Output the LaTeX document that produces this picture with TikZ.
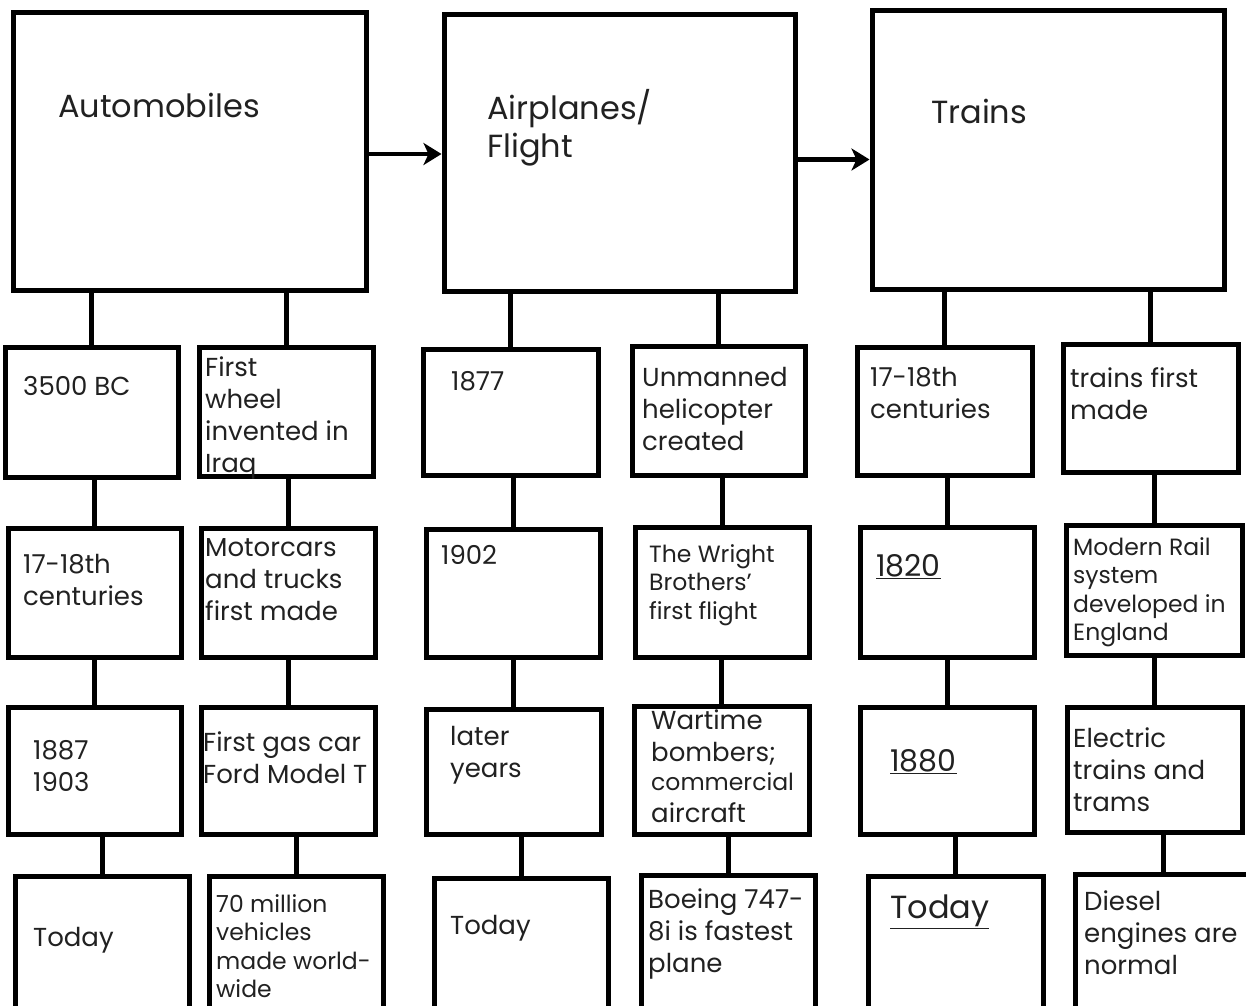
\documentclass[tikz,border=0pt]{standalone}
\usepackage{fontspec}
\setmainfont{Poppins}
\usepackage{tikz}
\usetikzlibrary{arrows.meta}
\definecolor{ink}{rgb}{0.13,0.13,0.13}
\tikzstyle{box}=[draw, line width=5pt, inner sep=0pt, rectangle]
\tikzstyle{txt}=[anchor=north west, inner sep=0pt, align=left, text=ink, font=\fontsize{26}{32}\selectfont]
\tikzstyle{small}=[font=\fontsize{23.5}{28.5}\selectfont]
\tikzstyle{big}=[font=\fontsize{32}{38}\selectfont]
\tikzstyle{link}=[line width=5pt]
\tikzstyle{arr}=[line width=4.5pt, -{Stealth[length=18pt,width=22pt,inset=5pt]}]

\begin{document}
\begin{tikzpicture}[x=1pt,y=-1pt]
\useasboundingbox (0,0) rectangle (1246,1005);
\clip (0,0) rectangle (1246,1005);
% top row
\node[box, minimum width=353pt, minimum height=278pt] (auto) at (189.5,151) {};
\node[box, minimum width=351pt, minimum height=277pt] (air) at (619.5,152.5) {};
\node[box, minimum width=352pt, minimum height=279pt] (trains) at (1048,149.5) {};
\node[txt, big] (t-auto) at (58,93) {Automobiles};
\node[txt, big] (t-air) at (487,89) {Airplanes/\\Flight};
\node[txt, big] (t-trains) at (931,99) {Trains};
\draw[arr] ([yshift=-3pt]auto.east) -- ([yshift=-3pt]auto.east -| air.west);
\draw[arr] ([yshift=-7pt]air.east) -- ([yshift=-7pt]air.east -| trains.west);
% first row
\node[box, minimum width=173pt, minimum height=130pt] (a1) at (91.5,412) {};
\node[box, minimum width=174pt, minimum height=129pt] (b1) at (286,411.5) {};
\node[box, minimum width=175pt, minimum height=126pt] (c1) at (510.5,412) {};
\node[box, minimum width=173pt, minimum height=129pt] (d1) at (718.5,410.5) {};
\node[box, minimum width=175pt, minimum height=128pt] (e1) at (944.5,411) {};
\node[box, minimum width=175pt, minimum height=128pt] (f1) at (1150.5,408) {};
\node[txt] (t-a1) at (23,376) {3500 BC};
\node[txt] (t-b1) at (205,357) {First\\wheel\\invented in\\Iraq};
\node[txt] (t-c1) at (451,371) {1877};
\node[txt] (t-d1) at (642,367) {Unmanned\\helicopter\\created};
\node[txt] (t-e1) at (870,367) {17-18th\\centuries};
\node[txt] (t-f1) at (1070,367) {trains first\\made};
% second row
\node[box, minimum width=173pt, minimum height=129pt] (a2) at (94.5,592.5) {};
\node[box, minimum width=174pt, minimum height=129pt] (b2) at (288,592.5) {};
\node[box, minimum width=174pt, minimum height=128pt] (c2) at (513,593) {};
\node[box, minimum width=174pt, minimum height=130pt] (d2) at (722,592) {};
\node[box, minimum width=174pt, minimum height=130pt] (e2) at (947,592) {};
\node[box, minimum width=176pt, minimum height=130pt] (f2) at (1154,590) {};
\node[txt] (t-a2) at (23,554) {17-18th\\centuries};
\node[txt] (t-b2) at (205,538) {Motorcars\\and trucks\\first made};
\node[txt] (t-c2) at (441,545) {1902};
\node[txt, small] (t-d2) at (649,544) {The Wright\\Brothers’\\first flight};
\node[txt, font=\fontsize{30}{36}\selectfont] (t-e2) at (876,554) {\underline{1820}};
\node[txt, small] (t-f2) at (1073,537) {Modern Rail\\system\\developed in\\England};
% third row
\node[box, minimum width=173pt, minimum height=127pt] (a3) at (94.5,770.5) {};
\node[box, minimum width=174pt, minimum height=127pt] (b3) at (288,770.5) {};
\node[box, minimum width=175pt, minimum height=125pt] (c3) at (513.5,771.5) {};
\node[box, minimum width=175pt, minimum height=128pt] (d3) at (721.5,770) {};
\node[box, minimum width=174pt, minimum height=127pt] (e3) at (947,770.5) {};
\node[box, minimum width=175pt, minimum height=125pt] (f3) at (1154.5,769.5) {};
\node[txt] (t-a3) at (33,740) {1887\\1903};
\node[txt] (t-b3) at (203,731) {First gas car\\Ford Model T};
\node[txt] (t-c3) at (450,726) {later\\years};
\node[txt] (t-d3) at (651,709) {Wartime\\bombers;\\[-3pt]\fontsize{23.5}{28.5}\selectfont commercial\\aircraft};
\node[txt, font=\fontsize{30}{36}\selectfont] (t-e3) at (890,749) {\underline{1880}};
\node[txt] (t-f3) at (1073,727) {Electric\\trains and\\trams};
% last row
\node[box, minimum width=174pt, minimum height=164pt] (a4) at (102,958) {};
\node[box, minimum width=174pt, minimum height=164pt] (b4) at (296,958) {};
\node[box, minimum width=174pt, minimum height=162pt] (c4) at (521,959) {};
\node[box, minimum width=174pt, minimum height=165pt] (d4) at (728,957.5) {};
\node[box, minimum width=175pt, minimum height=164pt] (e4) at (955.5,958) {};
\node[box, minimum width=177pt, minimum height=166pt] (f4) at (1163.5,957) {};
\node[txt] (t-a4) at (33,927) {Today};
\node[txt, small] (t-b4) at (216,894) {70 million\\vehicles\\made world-\\wide};
\node[txt] (t-c4) at (450,915) {Today};
\node[txt] (t-d4) at (648,888) {Boeing 747-\\8i is fastest\\plane};
\node[txt, big] (t-e4) at (890,895) {\underline{Today}};
\node[txt] (t-f4) at (1084,890) {Diesel\\engines are\\normal};
% links
\foreach \up/\down in {auto/a1,auto/b1,air/c1,air/d1,trains/e1,trains/f1,
  a1/a2,b1/b2,c1/c2,d1/d2,e1/e2,f1/f2,
  a2/a3,b2/b3,c2/c3,d2/d3,e2/e3,f2/f3,
  a3/a4,b3/b4,c3/c4,d3/d4,e3/e4,f3/f4}
  \draw[link] (\up.south -| \down.north) -- (\down.north);
\end{tikzpicture}
\end{document}
